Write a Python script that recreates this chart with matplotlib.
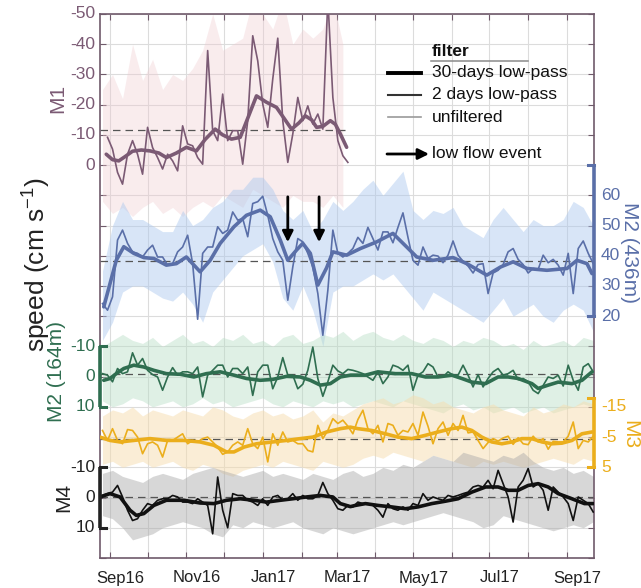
import numpy as np
import matplotlib
matplotlib.use('Agg')
import matplotlib.pyplot as plt
from matplotlib.lines import Line2D
from matplotlib.transforms import blended_transform_factory

plt.rcParams['font.family'] = ['Liberation Sans', 'DejaVu Sans']
plt.rcParams['mathtext.fontset'] = 'custom'
plt.rcParams['mathtext.rm'] = 'Liberation Sans'

# ---------------- data (days since 2016-09-01, speeds in cm/s) ----------------
# 2-day low-pass, sampled every 4 days
m1_2d_start = -2
m1_2d = [-9.2, -5.3, 2.4, 6.3, -3.6, -8.1, -3.6, 3.0, -12.5, -5.8, -2.5, 1.3, -3.6, -1.4, 1.9,
         -13.0, -7.0, -6.4, -2.5, -0.3, -37.9, -11.4, -8.1, -23.5, -8.1, -11.4, -11.4, -0.3, -14.7,
         -42.8, -34.5, -20.2, -12.5, -28.5, -42.0, -14.7, -0.9, -10.3, -22.4, -14.7, -19.6, -13.6,
         -16.9, -11.9, -55.0, -22.4, -8.1, -3.1, -0.9]
full_2d_start = -6
m2d_2d = [24.2, 22.0, 26.4, 45.2, 48.5, 44.1, 41.3, 40.8, 39.6, 41.9, 43.5, 39.6, 39.6, 36.9, 37.4,
          41.3, 42.9, 46.8, 37.4, 19.0, 40.8, 42.9, 42.9, 49.6, 47.4, 48.5, 54.5, 51.8, 52.3, 46.3,
          57.3, 57.9, 59.7, 53.4, 45.7, 41.3, 38.5, 25.3, 36.3, 45.7, 44.6, 40.8, 36.3, 27.5, 13.7,
          28.6, 48.5, 40.8, 39.6, 40.8,
          42.4, 46.1, 44.1, 49.4, 45.7, 41.9, 47.9, 47.9, 44.3, 49.4, 54.2, 46.1, 38.5, 36.9, 42.9,
          39.1, 40.2, 39.9, 37.7, 40.2, 44.9, 40.2, 38.2, 36.6, 34.3, 37.1, 37.4, 27.5, 34.3, 35.2,
          37.1, 41.3, 42.4, 38.8, 37.1, 34.3, 35.8, 35.5, 40.2, 37.7, 38.8, 36.9, 33.6, 40.8, 27.5,
          42.4, 44.9, 40.8, 37.4]
m2s_2d = [-1.0, -0.5, 1.7, -2.7, -1.0, -1.6, -7.9, -3.8, -6.0, -2.1, -0.7, 0.1, 4.5, 0.1, -3.0,
          -0.5, -1.6, -1.6, -1.0, -3.2, 6.7, -0.5, -2.1, -3.8, -3.8, 0.1, -2.7, -2.7, -1.0, -3.2,
          6.2, -1.6, -3.8, -3.8, 4.0, 0.1, -6.3, -0.5, -0.5, 4.0, 2.5, -2.1, -9.8, 0.6, 6.5, 1.7,
          -3.8, -1.9, -1.0, -2.4,
          -2.1, -1.6, -1.0, 0.1, 1.2, -1.6, 2.3, 0.1, -3.8, -3.2, -2.1, -3.8, 4.5, -0.5, -1.6, -4.3,
          -3.2, 0.1, 0.1, -1.6, -0.5, -0.5, -3.8, -0.5, 3.4, -0.7, 3.4, 0.6, -1.6, -2.7, -0.5, -1.0,
          -2.1, 1.0, 0.6, 1.7, 4.5, 5.6, 2.9, 0.1, 0.6, -0.5, 3.1, -3.8, 1.2, 4.5, -3.2, -4.3, -1.6]
m3_2d = [-7.2, -3.9, -7.8, -3.9, -2.8, -7.5, -7.2, -5.0, 0.5, -2.8, -3.4, -2.3, 1.6, -3.9, -3.9,
         -5.0, -6.1, -2.8, -3.9, -3.4, -4.5, -5.0, -3.4, -1.7, 0.7, -0.1, -2.3, -3.4, -2.3, -7.8,
         -2.8, -1.2, -5.0, 3.2, -6.1, -2.3, -6.7, -3.4, -3.9, -2.8, -2.8, -0.6, -0.1, -8.9, -4.5,
         -7.2, -11.1, -9.5, -10.6, -8.6,
         -6.1, -10.8, -13.9, -7.8, -6.1, -8.9, -3.4, -9.5, -8.9, -5.6, -7.2, -6.7, -9.5, -5.6, -13.3,
         -8.6, -2.8, -7.8, -10.0, -5.6, -9.5, -7.2, -12.2, -6.4, -6.7, -3.9, -1.2, -3.2, -4.5, -3.7,
         -4.7, -5.3, -2.6, -4.8, -2.8, -2.5, -5.3, -3.4, -4.5, -1.0, -3.6, -3.4, -3.4, -5.3, -10.0,
         -1.2, -3.9, -3.4, -5.3]
m4_2d = [-0.7, -1.3, -1.8, -4.0, -0.2, 4.2, 7.6, 7.0, 4.2, 2.0, 2.6, 0.9, 0.4, 0.4, -0.7, -0.2,
         1.5, 1.5, 2.0, 0.4, 1.5, 2.6, 12.0, -6.8, 4.2, 10.0, -1.3, -0.7, -0.7, 0.9, 1.5, 2.6, 0.4,
         2.6, -0.2, -0.7, 0.9, 0.4, -1.3, 0.9, -0.7, 0.4, 0.4, -0.7, -5.0, -1.3, 0.9, 3.7, 4.2, 2.6,
         3.1, 1.5, 2.0, 2.0, 2.6, 4.2, 6.5, 2.0, 3.7, 4.2, 3.1, 4.2, 2.0, 2.6, -1.3, 0.9, -0.2, 0.4,
         0.9, -0.7, -0.2, -0.7, -1.3, -1.8, -3.5, -4.0, -3.5, -5.7, -2.9, -9.0, -4.6, -0.2, 8.1,
         -3.5, -5.7, -9.6, -3.5, -4.6, -2.4, 4.2, -3.5, -1.8, -0.2, 2.0, 7.6, -0.2, 0.9, 2.0, 4.8]

# 30-day low-pass (day, value)
m1_30_d = [-3, 2, 7, 12, 18, 25, 32, 39, 45, 53, 61, 69, 76, 84, 90, 97, 104, 110, 117, 125, 133,
           139, 145, 151, 156, 161, 165, 170, 176, 180, 184, 189]
m1_30_v = [-3.6, -1.8, -1.4, -2.8, -4.6, -5.0, -4.7, -4.0, -2.5, -4.0, -5.9, -4.7, -8.5, -11.9,
           -10.0, -8.6, -9.2, -15.5, -22.9, -20.8, -19.1, -15.5, -11.9, -14.0, -16.3, -15.0, -12.5,
           -12.8, -14.7, -13.5, -10.3, -5.9]
m2d_30_d = [-5, 0, 5, 11, 19, 27, 35, 45, 53, 61, 72, 80, 88, 99, 109, 120, 128, 136, 142, 149,
            154, 160, 166, 173, 178, 189, 200, 213, 226, 237, 245, 258, 274, 285, 301, 312, 322,
            333, 349, 365, 373, 381, 385]
m2d_30_v = [23.1, 30.8, 38.5, 43.0, 40.8, 39.4, 39.1, 36.9, 37.4, 39.6, 34.7, 38.5, 44.1, 49.6,
            53.4, 55.1, 52.9, 45.2, 38.5, 41.9, 44.1, 40.8, 30.3, 36.0, 41.3, 40.2, 42.4, 44.6,
            47.4, 42.9, 39.6, 38.5, 39.4, 37.4, 33.6, 36.3, 38.0, 35.8, 35.2, 35.8, 38.5, 37.4, 34.1]
m2s_30_d = [-5, 0, 5, 11, 19, 27, 35, 45, 56, 67, 77, 88, 99, 109, 120, 130, 141, 152, 160, 168,
            176, 184, 192, 204, 214, 228, 241, 252, 262, 273, 281, 289, 300, 310, 318, 326, 337,
            342, 350, 358, 369, 377, 385]
m2s_30_v = [1.2, 0.6, -1.0, -2.7, -3.8, -3.2, -2.1, -1.0, -0.8, 0.1, -1.0, -1.6, -0.5, 0.6, 1.2,
            0.9, -0.1, 0.1, 1.2, 2.8, 2.3, 0.1, -0.5, -0.5, -1.6, -1.0, -1.0, 0.1, 0.1, -0.5, 0.6,
            1.8, 2.3, 0.1, 0.1, 0.6, 2.3, 3.9, 2.8, 1.8, 2.3, 1.2, -1.6]
m3_30_d = [-8, 0, 8, 19, 32, 45, 59, 72, 83, 93, 99, 107, 117, 130, 141, 152, 162, 173, 184, 192,
           198, 209, 220, 230, 241, 252, 262, 273, 281, 289, 297, 305, 313, 321, 329, 337, 345,
           353, 361, 369, 377, 385]
m3_30_v = [-5.0, -3.9, -3.4, -3.9, -4.5, -3.9, -3.9, -3.4, -2.3, -0.1, -0.1, -1.7, -2.8, -3.4,
           -3.9, -4.5, -5.0, -6.7, -7.8, -8.3, -7.8, -7.2, -6.1, -5.0, -4.5, -5.6, -6.7, -7.8,
           -8.3, -7.2, -5.0, -3.4, -2.8, -3.4, -4.5, -4.5, -3.4, -2.8, -3.0, -3.9, -6.1, -6.7]
m4_30_d = [-8, 0, 8, 16, 21, 27, 35, 45, 59, 72, 83, 93, 104, 115, 125, 136, 146, 157, 168, 178,
           184, 192, 196, 204, 214, 225, 236, 246, 257, 268, 278, 289, 300, 310, 318, 326, 334,
           342, 350, 358, 369, 379, 386]
m4_30_v = [-0.2, -1.3, -0.2, 4.2, 5.9, 5.3, 2.6, 0.9, 0.9, 1.8, 2.0, 0.9, 0.4, 0.9, 1.5, 0.9, 0.4,
           -0.2, -0.7, -0.2, 2.0, 3.0, 2.6, 2.0, 2.6, 3.1, 3.7, 3.1, 2.0, 1.2, 0.4, -1.8, -3.5,
           -3.5, -2.4, -2.4, -4.0, -4.6, -3.5, -1.3, 0.4, 2.0, 2.0]

# unfiltered envelope (upper / lower), sampled every 8 days
env_start = -6
m1_hi = [-25, -30, -22, -40, -28, -35, -25, -30, -28, -32, -38, -50, -38, -40, -42, -55, -50,
         -45, -55, -40, -45, -42, -45, -55, -40]
m1_lo = [12, 16, 14, 17, 14, 12, 16, 14, 17, 14, 12, 14, 10, 12, 14, 8, 10, 12, 14, 10, 12, 12,
         14, 10, 14]
m2d_hi = [35, 50, 58, 52, 52, 50, 48, 48, 55, 50, 52, 56, 58, 62, 62, 66, 66, 62, 55, 52, 55, 48,
          52, 58, 55, 58, 62, 65, 60, 64, 68, 55, 52, 55, 54, 56, 50, 48, 46, 52, 56, 52, 48, 52,
          50, 50, 52, 58, 56, 50]
m2d_lo = [12, 18, 28, 30, 30, 28, 26, 25, 28, 24, 18, 28, 32, 36, 40, 42, 44, 38, 26, 22, 30, 22,
          10, 28, 30, 30, 32, 34, 32, 34, 30, 26, 22, 28, 26, 24, 22, 20, 18, 22, 26, 20, 22, 24,
          20, 18, 22, 24, 22, 15]
m2s_hi = [-10, -12, -14, -12, -11, -13, -10, -12, -14, -11, -12, -10, -13, -12, -14, -11, -12,
          -10, -13, -14, -11, -12, -14, -13, -15, -12, -14, -15, -13, -12, -14, -12, -11, -13,
          -12, -10, -12, -11, -13, -12, -10, -11, -9, -12, -10, -11, -12, -10, -13, -12]
m2s_lo = [8, 10, 9, 7, 8, 10, 9, 8, 10, 9, 7, 9, 8, 10, 9, 8, 7, 9, 10, 8, 9, 10, 8, 9, 8, 10, 9,
          8, 9, 10, 8, 9, 10, 11, 12, 10, 9, 11, 10, 12, 11, 10, 12, 11, 10, 12, 11, 10, 9, 10]
m3_hi = [-12, -14, -13, -15, -12, -14, -13, -12, -14, -13, -12, -15, -14, -12, -11, -13, -14,
         -12, -13, -11, -12, -14, -10, -13, -12, -14, -16, -17, -18, -16, -17, -19, -18, -16,
         -17, -15, -14, -13, -15, -16, -14, -13, -12, -15, -13, -14, -16, -15, -17, -16]
m3_lo = [4, 3, 5, 4, 3, 5, 4, 3, 5, 6, 4, 5, 7, 8, 6, 5, 4, 5, 3, 4, 5, 6, 3, 4, 5, 4, 2, 1, 2, 0,
         1, 2, 3, 1, 2, 3, 4, 5, 3, 4, 3, 4, 5, 4, 3, 2, 3, 4, 2, 3]
m4_hi = [-8, -9, -7, -6, -5, -7, -8, -7, -6, -8, -9, -10, -9, -8, -7, -8, -9, -7, -8, -7, -6, -8,
         -7, -6, -8, -9, -7, -8, -10, -9, -11, -10, -12, -14, -13, -12, -15, -14, -13, -12, -14,
         -13, -15, -12, -10, -9, -10, -8, -9, -7]
m4_lo = [6, 7, 10, 14, 13, 12, 10, 9, 8, 9, 10, 12, 13, 9, 10, 8, 9, 10, 9, 8, 10, 11, 12, 10,
         11, 12, 11, 10, 9, 8, 9, 8, 7, 6, 5, 6, 7, 8, 10, 9, 6, 7, 8, 9, 10, 11, 10, 9, 10, 8]

# mean (dashed) levels
m1_mean, m2d_mean, m2s_mean, m3_mean, m4_mean = -11.5, 38.2, -1.0, -4.5, -0.3
m1_end_day = 189

# tick labels
m1_ticks = [-50, -40, -30, -20, -10, 0]
m2d_ticks = [60, 50, 40, 30, 20]
m2s_ticks = [-10, 0, 10]
m3_ticks = [-15, -5, 5]
m4_ticks = [-10, 0, 10]
month_labels = ['Sep16', 'Nov16', 'Jan17', 'Mar17', 'May17', 'Jul17', 'Sep17']
low_flow_days = [142, 167]

# ---------------- layout / style ----------------
W, H = 641, 588
def fx(x): return x / W
def fy(y): return 1 - y / H

# series placement on the common stacked axis: main = offset + sign * value
place = {'m1': (0, 1), 'm2d': (70, -1), 'm2s': (70, 1), 'm3': (95, 1), 'm4': (110, 1)}
def tm(key, v):
    off, sg = place[key]
    return off + sg * np.asarray(v, dtype=float)

c_m1, c_m2d, c_m2s, c_m3, c_m4 = '#7B5A74', '#5A6FA8', '#2F6E50', '#EBAE1C', '#111111'
f_m1, f_m2d, f_m2s, f_m3, f_m4 = '#EFC9CE', '#A9C7EF', '#B4DCC3', '#F6DDAE', '#A8A8A8'
spine_c = '#6F5A6B'

fig = plt.figure(figsize=(W / 100, H / 100), dpi=100)
ax = fig.add_axes([fx(100), 30 / H, 494 / W, 544 / H])
ax.set_xlim(-8, 386.6)
ax.set_ylim(130, -50)

base = np.datetime64('2016-09-01')
months = np.arange(np.datetime64('2016-09'), np.datetime64('2017-10'), dtype='datetime64[M]')
month_days = (months.astype('datetime64[D]') - base).astype(float)
ax.set_xticks(month_days)
ax.set_xticklabels([])
label_days = month_days[::2] + 8.5
ax.set_xticks(label_days, minor=True)
ax.set_xticklabels(month_labels, minor=True)
ax.set_yticks(np.arange(-50, 131, 10))
ax.set_yticklabels([])
ax.grid(True, which='major', color='#DCDCDC', lw=0.8, zorder=0)
ax.set_axisbelow(True)
ax.tick_params(which='major', direction='in', length=4, top=True, right=True, color=spine_c)
ax.tick_params(which='minor', length=0, pad=9, labelsize=12, labelcolor='#222222')
for s in ax.spines.values():
    s.set_color(spine_c)
    s.set_linewidth(1.2)

d2_m1 = np.arange(len(m1_2d)) * 4 + m1_2d_start
d2 = np.arange(len(m2d_2d)) * 4 + full_2d_start
de_m1 = np.arange(len(m1_hi)) * 8 + env_start
de = np.arange(len(m2d_hi)) * 8 + env_start

series = [
    ('m1', de_m1, m1_hi, m1_lo, d2_m1, m1_2d, m1_30_d, m1_30_v, c_m1, f_m1, 0.35),
    ('m2d', de, m2d_hi, m2d_lo, d2, m2d_2d, m2d_30_d, m2d_30_v, c_m2d, f_m2d, 0.45),
    ('m2s', de, m2s_hi, m2s_lo, d2, m2s_2d, m2s_30_d, m2s_30_v, c_m2s, f_m2s, 0.42),
    ('m3', de, m3_hi, m3_lo, d2, m3_2d, m3_30_d, m3_30_v, c_m3, f_m3, 0.5),
    ('m4', de, m4_hi, m4_lo, d2, m4_2d, m4_30_d, m4_30_v, c_m4, f_m4, 0.45),
]
for key, dE, hi, lo, dd, v2, d30, v30, col, fcol, al in series:
    ax.fill_between(dE, tm(key, hi), tm(key, lo), color=fcol, alpha=al, lw=0, zorder=1)
for key, dE, hi, lo, dd, v2, d30, v30, col, fcol, al in series:
    ax.plot(dd, tm(key, v2), color=col, lw=1.2, zorder=3, solid_joinstyle='round')
    ax.plot(d30, tm(key, v30), color=col, lw=2.6, zorder=4, solid_capstyle='round')

dash = dict(color='#555555', lw=0.9, ls=(0, (6, 4)), zorder=2.5)
ax.plot([-8, m1_end_day], [tm('m1', m1_mean)] * 2, **dash)
for key, mv in [('m2d', m2d_mean), ('m2s', m2s_mean), ('m3', m3_mean), ('m4', m4_mean)]:
    ax.axhline(tm(key, mv), **dash)

# colored axis brackets
tr = blended_transform_factory(ax.transAxes, ax.transData)
def bracket(xa, y0, y1, col, inward):
    ax.plot([xa, xa], [y0, y1], color=col, lw=2.6, transform=tr, clip_on=False, zorder=6,
            solid_capstyle='butt')
    for yy in (y0, y1):
        ax.plot([xa, xa + inward], [yy, yy], color=col, lw=2.2, transform=tr, clip_on=False,
                zorder=6)
bracket(0, tm('m2s', -10), tm('m2s', 10), c_m2s, 0.012)
bracket(0, tm('m4', -10), tm('m4', 10), '#222222', 0.012)
bracket(1, tm('m2d', 70), tm('m2d', 20), c_m2d, -0.012)
bracket(1, tm('m3', -18), tm('m3', 5), c_m3, -0.012)

# y tick labels
lx, rx = -5 / 494, 1 + 7 / 494
for key, ticks, col, side in [('m1', m1_ticks, c_m1, 'L'), ('m2s', m2s_ticks, c_m2s, 'L'),
                              ('m4', m4_ticks, '#222222', 'L'), ('m2d', m2d_ticks, c_m2d, 'R'),
                              ('m3', m3_ticks, c_m3, 'R')]:
    for t in ticks:
        ax.text(lx if side == 'L' else rx, tm(key, t), str(t), transform=tr, fontsize=12.5,
                color=col, ha='right' if side == 'L' else 'left', va='center', clip_on=False)

# series names
fig.text(fx(58), fy(98), 'M1', rotation=90, color=c_m1, fontsize=15, ha='center', va='center')
fig.text(fx(57), fy(372), 'M2 (164m)', rotation=90, color=c_m2s, fontsize=15, ha='center',
         va='center')
fig.text(fx(64), fy(497), 'M4', rotation=90, color='#222222', fontsize=15, ha='center',
         va='center')
fig.text(fx(630), fy(253), 'M2 (436m)', rotation=-90, color=c_m2d, fontsize=15, ha='center',
         va='center')
fig.text(fx(630), fy(435), 'M3', rotation=-90, color=c_m3, fontsize=15, ha='center', va='center')
fig.text(fx(36), fy(265), r'speed (cm s$^{\mathregular{-1}}$)', rotation=90, color='#222222',
         fontsize=19, ha='center', va='center')

# low flow event arrows
for dday in low_flow_days:
    ax.annotate('', xy=(dday, 25.5), xytext=(dday, 10.5),
                arrowprops=dict(arrowstyle='-|>', lw=2.0, color='k', mutation_scale=16,
                                shrinkA=0, shrinkB=0), zorder=7)

# legend
fig.text(fx(432), fy(52), 'filter', fontsize=12.5, fontweight='bold', color='#111111',
         va='center', ha='left')
fig.add_artist(Line2D([fx(431), fx(528)], [fy(61), fy(61)], color='#8A8A8A', lw=1.1))
for yy, lw_, c_, lab in [(73, 2.8, '#000000', '30-days low-pass'),
                         (95, 1.5, '#333333', '2 days low-pass'),
                         (117, 1.2, '#9A9A9A', 'unfiltered')]:
    fig.add_artist(Line2D([fx(388), fx(421)], [fy(yy), fy(yy)], color=c_, lw=lw_))
    fig.text(fx(432), fy(yy), lab, fontsize=12.5, color='#111111', va='center', ha='left')
ax.annotate('', xy=(fx(429), fy(154)), xytext=(fx(387), fy(154)), xycoords='figure fraction',
            arrowprops=dict(arrowstyle='-|>', lw=2.0, color='k', mutation_scale=16,
                            shrinkA=0, shrinkB=0), annotation_clip=False)
fig.text(fx(432), fy(154), 'low flow event', fontsize=12.5, color='#111111', va='center',
         ha='left')

fig.savefig('out.png', dpi=100)
